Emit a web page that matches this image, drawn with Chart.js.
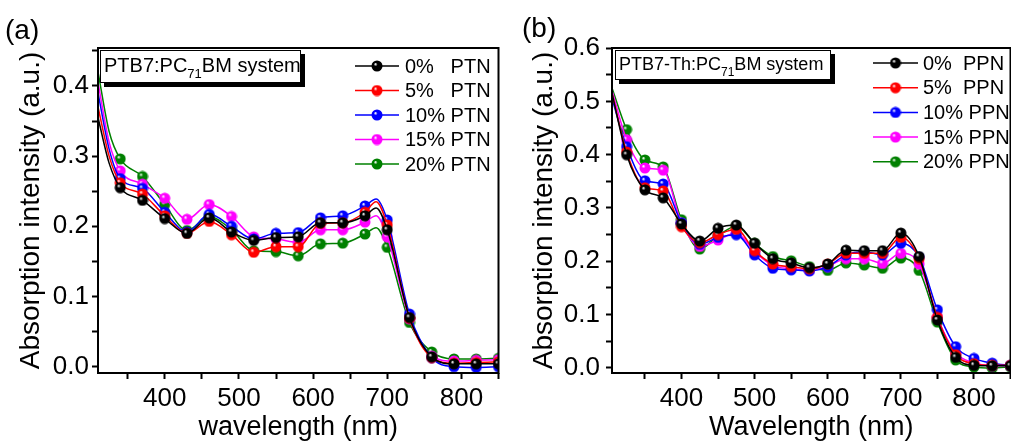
<!DOCTYPE html>
<html>
<head>
<meta charset="utf-8">
<script src="https://cdn.jsdelivr.net/npm/chart.js@4.4.1/dist/chart.umd.min.js"></script>
<style>
  html, body { margin: 0; padding: 0; background: #fff; overflow: hidden; width: 1011px; height: 441px; }
  .panel { position: absolute; top: 0; height: 441px; }
  #wrapA { left: 0; width: 505px; }
  #wrapB { left: 505px; width: 512px; }
</style>
</head>
<body>
<div class="panel" id="wrapA"><canvas id="chartA" width="505" height="441"></canvas></div>
<div class="panel" id="wrapB"><canvas id="chartB" width="512" height="441"></canvas></div>
<script>
// panel (a): PTB7:PC71BM with PTN
const waveA = [310, 325, 340, 370, 400, 430, 460, 490, 520, 550, 580, 610, 640, 670, 685, 700, 730, 760, 790, 820, 850];
const markA = [340, 370, 400, 430, 460, 490, 520, 550, 580, 610, 640, 670, 700, 730, 760, 790, 820, 850];
const labelsA = ['0%   PTN', '5%   PTN', '10% PTN', '15% PTN', '20% PTN'];
const ptn0  = [0.355, 0.290, 0.255, 0.237, 0.211, 0.190, 0.212, 0.192, 0.180, 0.184, 0.185, 0.205, 0.205, 0.215, 0.226, 0.195, 0.070, 0.014, 0.004, 0.004, 0.004];
const ptn5  = [0.370, 0.300, 0.262, 0.246, 0.215, 0.190, 0.207, 0.188, 0.163, 0.171, 0.171, 0.204, 0.205, 0.220, 0.235, 0.202, 0.069, 0.013, 0.005, 0.006, 0.007];
const ptn10 = [0.390, 0.310, 0.268, 0.254, 0.220, 0.192, 0.217, 0.200, 0.182, 0.190, 0.191, 0.212, 0.215, 0.229, 0.239, 0.209, 0.075, 0.013, 0.000, -0.001, 0.000];
const ptn15 = [0.405, 0.320, 0.279, 0.260, 0.240, 0.210, 0.231, 0.214, 0.185, 0.182, 0.177, 0.195, 0.195, 0.206, 0.215, 0.185, 0.068, 0.015, 0.008, 0.009, 0.010];
const ptn20 = [0.420, 0.335, 0.296, 0.271, 0.231, 0.194, 0.214, 0.195, 0.165, 0.164, 0.158, 0.175, 0.176, 0.189, 0.198, 0.170, 0.063, 0.021, 0.011, 0.011, 0.012];

// panel (b): PTB7-Th:PC71BM with PPN
const waveB = [305, 325, 350, 375, 400, 425, 450, 475, 500, 525, 550, 575, 600, 625, 650, 675, 700, 725, 750, 775, 800, 825, 850];
const markB = [325, 350, 375, 400, 425, 450, 475, 500, 525, 550, 575, 600, 625, 650, 675, 700, 725, 750, 775, 800, 825, 850];
const labelsB = ['0%  PPN', '5%  PPN', '10% PPN', '15% PPN', '20% PPN'];
const ppn0  = [0.515, 0.400, 0.334, 0.319, 0.270, 0.238, 0.262, 0.268, 0.234, 0.205, 0.197, 0.188, 0.195, 0.221, 0.220, 0.220, 0.253, 0.209, 0.090, 0.020, 0.005, 0.004, 0.004];
const ppn5  = [0.515, 0.405, 0.338, 0.332, 0.265, 0.235, 0.250, 0.260, 0.220, 0.195, 0.190, 0.186, 0.195, 0.215, 0.215, 0.215, 0.245, 0.205, 0.095, 0.025, 0.008, 0.005, 0.005];
const ppn10 = [0.505, 0.415, 0.351, 0.345, 0.272, 0.232, 0.245, 0.250, 0.212, 0.187, 0.184, 0.182, 0.190, 0.212, 0.218, 0.212, 0.234, 0.208, 0.109, 0.040, 0.018, 0.009, 0.005];
const ppn15 = [0.520, 0.428, 0.375, 0.371, 0.272, 0.228, 0.240, 0.253, 0.218, 0.192, 0.186, 0.183, 0.190, 0.205, 0.205, 0.196, 0.215, 0.195, 0.095, 0.028, 0.010, 0.004, 0.004];
const ppn20 = [0.525, 0.447, 0.390, 0.377, 0.278, 0.223, 0.248, 0.266, 0.234, 0.209, 0.201, 0.190, 0.183, 0.197, 0.193, 0.187, 0.206, 0.183, 0.086, 0.015, 0.002, 0.000, 0.002];

// axis ticks (labels only on the round ones)
const xTicks = [350, 400, 450, 500, 550, 600, 650, 700, 750, 800, 850];
const yTicksA = [0, 0.05, 0.1, 0.15, 0.2, 0.25, 0.3, 0.35, 0.4, 0.45];
const yTicksB = [0, 0.05, 0.1, 0.15, 0.2, 0.25, 0.3, 0.35, 0.4, 0.45, 0.5, 0.55, 0.6];

const colors = ['#000000', '#ff0000', '#0000ff', '#ff00ff', '#008000'];
const FONT = '"Liberation Sans", Arial, sans-serif';

// shaded ball marker, one per colour
function makeBall(color) {
  const c = document.createElement('canvas');
  c.width = 12; c.height = 12;
  const g = c.getContext('2d');
  const grad = g.createRadialGradient(4.3, 4.0, 0.3, 6, 6, 6);
  grad.addColorStop(0, '#ffffff');
  grad.addColorStop(0.28, color);
  grad.addColorStop(1, color);
  g.fillStyle = grad;
  g.beginPath(); g.arc(6, 6, 5.5, 0, Math.PI * 2); g.fill();
  return c;
}
const balls = {};
colors.forEach(c => balls[c] = makeBall(c));

function makeSets(wave, marks, labels, series) {
  return series.map((vals, i) => ({
    label: labels[i],
    data: wave.map((x, j) => ({ x: x, y: vals[j] })),
    borderColor: colors[i],
    backgroundColor: colors[i],
    borderWidth: 1.5,
    cubicInterpolationMode: 'monotone',
    pointStyle: balls[colors[i]],
    pointRadius: ctx => marks.includes(ctx.raw.x) ? 5 : 0,
    fill: false
  }));
}

// frame round the plot area
const framePlugin = {
  id: 'frame',
  afterDatasetsDraw(chart) {
    const a = chart.chartArea, ctx = chart.ctx;
    ctx.save();
    ctx.strokeStyle = '#000';
    ctx.lineWidth = 2;
    ctx.strokeRect(a.left, a.top, a.right - a.left, a.bottom - a.top);
    ctx.restore();
  }
};

// panel tag, sample box and legend
const decoPlugin = {
  id: 'deco',
  afterDraw(chart, args, o) {
    const ctx = chart.ctx;
    ctx.save();
    // tag
    ctx.fillStyle = '#000';
    ctx.font = '28px ' + FONT;
    ctx.textBaseline = 'middle';
    ctx.fillText(o.tag, o.tagX, o.tagY);
    // box with shadow
    const b = o.box;
    ctx.fillStyle = '#000';
    ctx.fillRect(b.x + 4, b.y + 4, b.w, b.h);
    ctx.fillStyle = '#fff';
    ctx.fillRect(b.x, b.y, b.w, b.h);
    ctx.strokeStyle = '#000';
    ctx.lineWidth = 1;
    ctx.strokeRect(b.x + 0.5, b.y + 0.5, b.w - 1, b.h - 1);
    ctx.fillStyle = '#000';
    ctx.textBaseline = 'alphabetic';
    let tx = b.x + 4;
    ctx.font = b.size + 'px ' + FONT;
    ctx.fillText(b.pre, tx, b.base);
    tx += ctx.measureText(b.pre).width;
    ctx.font = Math.round(b.size * 0.65) + 'px ' + FONT;
    ctx.fillText(b.sub, tx, b.base + 6);
    tx += ctx.measureText(b.sub).width;
    ctx.font = b.size + 'px ' + FONT;
    ctx.fillText(b.post, tx, b.base);
    // legend
    const L = o.legend;
    chart.data.datasets.forEach((ds, i) => {
      const y = L.y0 + i * L.dy;
      ctx.strokeStyle = ds.borderColor;
      ctx.lineWidth = 1.5;
      ctx.beginPath(); ctx.moveTo(L.x0, y); ctx.lineTo(L.x1, y); ctx.stroke();
      const img = balls[ds.borderColor];
      ctx.drawImage(img, (L.x0 + L.x1) / 2 - 6, y - 6);
      ctx.fillStyle = '#000';
      ctx.font = '20px ' + FONT;
      ctx.textBaseline = 'middle';
      ctx.fillText(ds.label, L.tx, y + 1);
    });
    ctx.restore();
  }
};

function makeChart(id, p) {
  return new Chart(document.getElementById(id), {
    type: 'line',
    data: { datasets: p.sets },
    options: {
      responsive: false,
      animation: false,
      events: [],
      layout: { padding: { left: 0, right: p.padRight, top: 48, bottom: 0 } },
      plugins: { legend: { display: false }, tooltip: { enabled: false }, deco: p.deco },
      scales: {
        x: {
          type: 'linear', min: p.xMin, max: 850,
          afterBuildTicks: s => { s.ticks = xTicks.map(v => ({ value: v })); },
          afterFit: s => { s.height = 68; },
          border: { display: false },
          grid: { drawOnChartArea: false, drawTicks: true, tickLength: 6, tickWidth: 2, tickColor: '#000' },
          ticks: {
            autoSkip: false, maxRotation: 0, padding: 4, color: '#000',
            font: { family: FONT, size: 26 },
            callback: v => (v % 100 === 0 ? String(v) : '')
          },
          title: {
            display: true, text: p.xTitle, color: '#000',
            font: { family: FONT, size: 27, lineHeight: 1 }, padding: { top: 0, bottom: 0 }
          }
        },
        y: {
          type: 'linear', min: p.yMin, max: p.yMax,
          afterBuildTicks: s => { s.ticks = p.yTicks.map(v => ({ value: v })); },
          afterFit: s => { s.width = p.yWidth; },
          border: { display: false },
          grid: { drawOnChartArea: false, drawTicks: true, tickLength: 6, tickWidth: 2, tickColor: '#000' },
          ticks: {
            autoSkip: false, padding: p.yPad, color: '#000',
            font: { family: FONT, size: 26 },
            callback: v => (Math.abs(v * 10 - Math.round(v * 10)) < 1e-6 ? v.toFixed(1) : '')
          },
          title: {
            display: true, text: 'Absorption intensity (a.u.)', color: '#000',
            font: { family: FONT, size: 28, lineHeight: 1 }, padding: { top: p.yTitlePad, bottom: 0 }
          }
        }
      }
    },
    plugins: [framePlugin, decoPlugin]
  });
}

makeChart('chartA', {
  sets: makeSets(waveA, markA, labelsA, [ptn0, ptn5, ptn10, ptn15, ptn20]),
  xMin: 310, yMin: -0.009, yMax: 0.454, yTicks: yTicksA,
  yWidth: 98, yPad: 3, yTitlePad: 17, padRight: 5,
  xTitle: 'wavelength (nm)',
  deco: {
    tag: '(a)', tagX: 5, tagY: 31,
    box: { x: 100, y: 50, w: 201, h: 33, base: 72, size: 20, pre: 'PTB7:PC', sub: '71', post: 'BM system' },
    legend: { x0: 355, x1: 399, tx: 405, y0: 66, dy: 24.5 }
  }
});

makeChart('chartB', {
  sets: makeSets(waveB, markB, labelsB, [ppn0, ppn5, ppn10, ppn15, ppn20]),
  xMin: 305, yMin: -0.0094, yMax: 0.6, yTicks: yTicksB,
  yWidth: 107, yPad: 6, yTitlePad: 25, padRight: 3,
  xTitle: 'Wavelength (nm)',
  deco: {
    tag: '(b)', tagX: 17, tagY: 29,
    box: { x: 110, y: 50, w: 216, h: 30, base: 70, size: 18, pre: 'PTB7-Th:PC', sub: '71', post: 'BM system' },
    legend: { x0: 368, x1: 413, tx: 418, y0: 63, dy: 24.7 }
  }
});
</script>
</body>
</html>
